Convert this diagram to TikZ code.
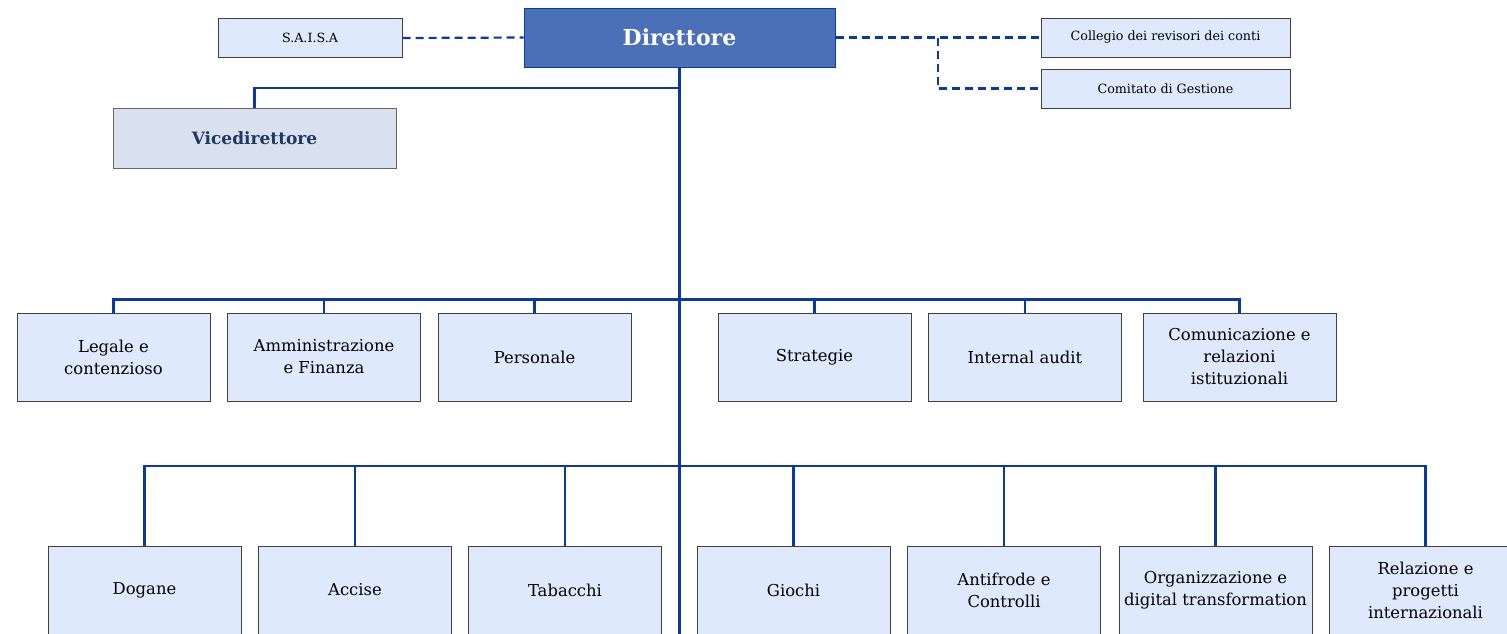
\documentclass[tikz,border=0pt]{standalone}
\usepackage{fontspec}
\setmainfont{DejaVu Serif}
\usetikzlibrary{positioning}
\definecolor{boxfill}{HTML}{DEE9FB}
\definecolor{dirfill}{HTML}{4A70B8}
\definecolor{vicefill}{HTML}{D9E0EE}
\definecolor{vicetext}{HTML}{1F3864}
\definecolor{linkblue}{HTML}{0B3A9E}

\begin{document}
\begin{tikzpicture}[x=1pt,y=-1pt]
\tikzstyle{every node}+=[inner sep=0pt]
\tikzstyle{unitbox}=[draw=black!75,line width=1pt,fill=boxfill,minimum width=193pt,minimum height=88pt,align=center,font=\fontsize{16.4}{22}\selectfont]
\tikzstyle{sidebox}=[draw=black!75,line width=1pt,fill=boxfill,minimum height=39pt,align=center,font=\fontsize{12.7}{15}\selectfont]
\tikzstyle{dirbox}=[draw=linkblue,line width=1pt,fill=dirfill,text=white,minimum width=311pt,minimum height=59pt,font=\fontsize{22}{26}\selectfont\bfseries]
\tikzstyle{vicebox}=[draw=black!60,line width=1pt,fill=vicefill,text=vicetext,minimum width=283pt,minimum height=60pt,font=\fontsize{17}{20}\selectfont\bfseries]
\tikzstyle{conn}=[draw=linkblue,line width=2.2pt]
\tikzstyle{dashconn}=[draw=linkblue,line width=2.2pt,dash pattern=on 8pt off 5pt]
\useasboundingbox (0,0) rectangle (1507,633);
\node [dirbox] (dir) at (679.5,37.5) {Direttore};
\node [sidebox,minimum width=184pt] (saisa) at (310,38) {S.A.I.S.A};
\node [sidebox,minimum width=249pt] (coll) at (1165.5,37.5) {Collegio dei revisori dei conti};
\node [sidebox,minimum width=249pt] (comit) at (1165.5,88.5) {Comitato di Gestione};
\node [vicebox] (vice) at (254.5,138) {Vicedirettore};
\node [unitbox] (leg) at (113.5,357) {Legale e\\contenzioso};
\node [unitbox] (adm) at (324,357) {Amministrazione\\e Finanza};
\node [unitbox] (pers) at (534.5,357) {Personale};
\node [unitbox] (strat) at (814.5,357) {Strategie};
\node [unitbox] (audit) at (1025,357) {Internal audit};
\node [unitbox] (comm) at (1239.5,357) {Comunicazione e\\relazioni\\istituzionali};
\node [unitbox] (dog) at (144.5,590) {Dogane};
\node [unitbox] (acc) at (355,590) {Accise};
\node [unitbox] (tab) at (565,590) {Tabacchi};
\node [unitbox] (gio) at (793.5,590) {Giochi};
\node [unitbox] (anti) at (1004,590) {Antifrode e\\Controlli};
\node [unitbox] (org) at (1215.5,590) {Organizzazione e\\digital transformation};
\node [unitbox] (rel) at (1425.5,590) {Relazione e\\progetti\\internazionali};
\coordinate (trunkend) at (679.5,640);
\coordinate (vjoin) at (679.5,88);
\coordinate (busa) at (679.5,299.5);
\coordinate (busb) at (679.5,466);
\coordinate (split) at (938,37.5);
\draw [dashconn] (saisa.east) -- (dir.west);
\draw [dashconn] (dir.east) -- (coll.west);
\draw [dashconn] (split) |- (comit.west);
\draw [conn] (dir.south) -- (trunkend);
\draw [conn] (vjoin) -| (vice.north);
\draw [conn] (leg.north) |- (busa -| comm.north) -- (comm.north);
\draw [conn] (busa -| adm.north) -- (adm.north);
\draw [conn] (busa -| pers.north) -- (pers.north);
\draw [conn] (busa -| strat.north) -- (strat.north);
\draw [conn] (busa -| audit.north) -- (audit.north);
\draw [conn] (dog.north) |- (busb -| rel.north) -- (rel.north);
\draw [conn] (busb -| acc.north) -- (acc.north);
\draw [conn] (busb -| tab.north) -- (tab.north);
\draw [conn] (busb -| gio.north) -- (gio.north);
\draw [conn] (busb -| anti.north) -- (anti.north);
\draw [conn] (busb -| org.north) -- (org.north);
\end{tikzpicture}
\end{document}
